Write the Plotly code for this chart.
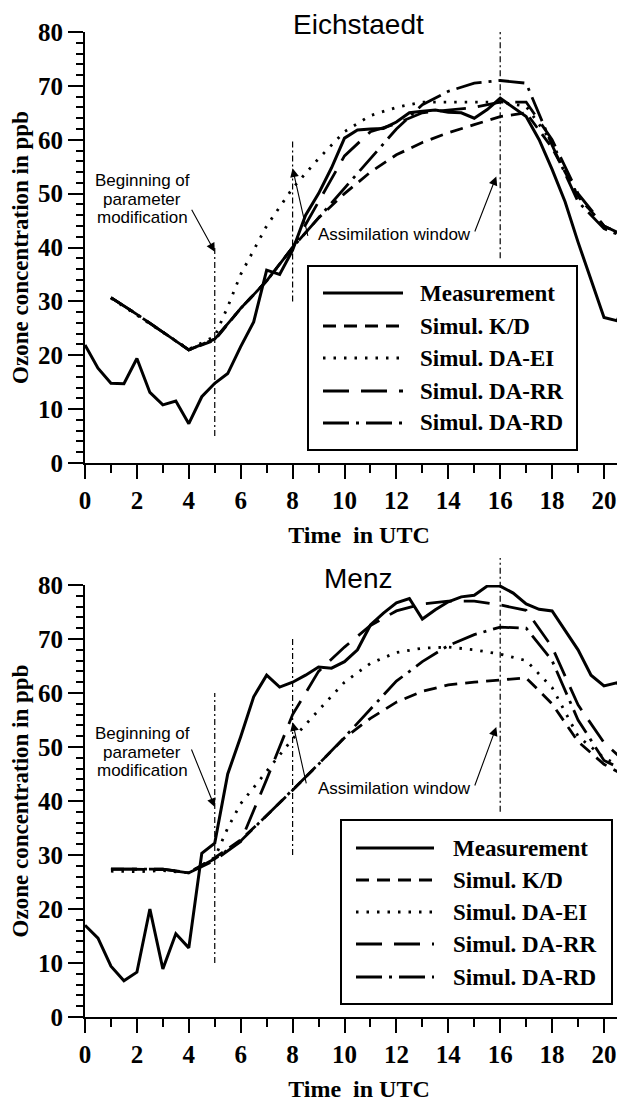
import plotly.graph_objects as go

W, H = 625, 1103
OFF = 8  # page body margin of the html page

# ---------------- data ----------------
series_names = ["Measurement", "Simul. K/D", "Simul. DA-EI", "Simul. DA-RR", "Simul. DA-RD"]
station_names = ["Eichstaedt", "Menz"]

t_meas = [0, 0.5, 1, 1.5, 2, 2.5, 3, 3.5, 4, 4.5, 5, 5.5, 6, 6.5, 7, 7.5, 8, 8.5, 9, 9.5,
          10, 10.5, 11, 11.5, 12, 12.5, 13, 13.5, 14, 14.5, 15, 15.5, 16, 16.5, 17, 17.5,
          18, 18.5, 19, 19.5, 20, 20.5, 21]
t_hour = [1, 2, 3, 4, 5, 6, 7, 8, 9, 10, 11, 12, 13, 14, 15, 16, 17, 18, 19, 20, 21]
t_ei = [1, 2, 3, 4, 5, 5.5, 6, 7, 8, 9, 10, 11, 12, 13, 14, 15, 16, 17, 18, 19, 20, 21]

# Eichstaedt
e_meas = [21.9, 17.6, 14.8, 14.7, 19.4, 13.1, 10.8, 11.5, 7.3, 12.3, 14.8, 16.6, 21.6, 26.2,
          35.8, 35.0, 39.5, 46.0, 50.0, 54.8, 60.3, 61.8, 62.0, 62.1, 63.3, 65.0, 65.3, 65.5,
          65.1, 65.0, 64.0, 65.6, 67.7, 66.0, 64.3, 60.0, 54.5, 48.5, 41.0, 34.0, 27.0, 26.4, 31.5]
e_kd = [30.7, 27.6, 24.3, 21.0, 22.8, 28.7, 33.8, 40.0, 45.5, 50.0, 54.0, 57.2, 59.5, 61.3,
        62.8, 64.3, 65.0, 58.5, 49.5, 44.0, 41.5]
e_ei = [30.6, 27.4, 24.2, 21.1, 23.5, 29.0, 35.0, 44.0, 51.0, 56.5, 61.5, 64.5, 66.0, 67.0,
        67.0, 67.0, 67.0, 66.2, 59.5, 49.5, 44.0, 41.7]
e_rr = [30.7, 27.6, 24.3, 21.0, 23.0, 28.7, 33.8, 40.0, 48.5, 57.0, 61.5, 63.0, 65.0, 65.5,
        66.0, 67.0, 67.0, 60.0, 50.0, 44.0, 41.7]
e_rd = [30.7, 27.6, 24.3, 21.0, 23.0, 28.7, 33.8, 40.0, 45.5, 51.0, 56.5, 62.0, 66.5, 69.0,
        70.5, 71.0, 70.5, 59.0, 48.5, 43.5, 41.5]

# Menz
m_meas = [17.0, 14.6, 9.4, 6.7, 8.3, 20.0, 8.9, 15.4, 12.8, 30.3, 32.2, 45.0, 51.9, 59.3,
          63.3, 61.1, 62.0, 63.3, 64.8, 64.6, 65.8, 68.0, 72.6, 74.8, 76.7, 77.5, 73.7, 75.4,
          76.9, 77.8, 78.1, 79.8, 79.8, 78.5, 76.5, 75.5, 75.2, 71.7, 68.0, 63.3, 61.3, 61.9, 58.5]
m_kd = [27.4, 27.3, 27.3, 26.7, 29.5, 32.8, 37.3, 42.0, 46.8, 51.7, 55.3, 58.3, 60.3, 61.5,
        62.0, 62.4, 62.8, 58.0, 51.0, 46.8, 44.2]
m_ei = [27.0, 26.9, 27.1, 26.7, 29.5, 35.0, 39.5, 45.5, 51.5, 56.8, 62.0, 65.5, 67.5, 68.3,
        68.5, 68.0, 67.2, 66.0, 61.0, 52.0, 48.0, 45.5]
m_rr = [27.4, 27.4, 27.4, 26.7, 29.0, 32.5, 44.0, 56.0, 64.0, 68.5, 72.5, 75.2, 76.5, 77.0,
        77.0, 76.3, 75.3, 68.5, 57.8, 50.8, 46.5]
m_rd = [27.4, 27.4, 27.4, 26.7, 29.3, 32.6, 37.3, 42.0, 46.8, 51.8, 57.0, 62.2, 65.8, 68.8,
        70.8, 72.2, 72.0, 66.0, 55.0, 47.5, 45.2]

# markers: (time, y from, y to)
e_vlines = [(5, 5, 40), (8, 30, 60), (16, 38, 80)]
m_vlines = [(5, 10, 60), (8, 30, 70), (16, 38, 85)]

# ---------------- styles ----------------
styles = [
    dict(width=3, dash="solid"),
    dict(width=2.8, dash="13px,8px"),
    dict(width=2.8, dash="2.5px,8px"),
    dict(width=2.8, dash="26px,12px"),
    dict(width=2.8, dash="26px,7px,3px,7px"),
]

fig = go.Figure()

panels = [
    dict(x="x", y="y", meas=e_meas, sims=[e_kd, e_ei, e_rr, e_rd], vl=e_vlines),
    dict(x="x2", y="y2", meas=m_meas, sims=[m_kd, m_ei, m_rr, m_rd], vl=m_vlines),
]
sim_times = [t_hour, t_ei, t_hour, t_hour]

for p in panels:
    fig.add_trace(go.Scatter(x=t_meas, y=p["meas"], mode="lines", name=series_names[0],
                             line=dict(color="black", **styles[0]), xaxis=p["x"], yaxis=p["y"],
                             showlegend=False))
    for k, s in enumerate(p["sims"]):
        fig.add_trace(go.Scatter(x=sim_times[k], y=s, mode="lines", name=series_names[k + 1],
                                 line=dict(color="black", **styles[k + 1]), xaxis=p["x"],
                                 yaxis=p["y"], showlegend=False))

shapes = []
for p in panels:
    for (tx, y0, y1) in p["vl"]:
        shapes.append(dict(type="line", xref=p["x"], yref=p["y"] + " domain", x0=tx, x1=tx,
                           y0=y0 / 80.0, y1=y1 / 80.0,
                           line=dict(color="black", width=1.2, dash="6px,3px,2px,3px")))

# ---------------- layout ----------------
# screen pixel -> paper coordinates
def px_x(v):
    return (v - OFF) / W

def px_y(v):
    return 1 - (v - OFF) / H

top_dom = [px_y(463), px_y(32)]
bot_dom = [px_y(1017), px_y(585)]
x_left = 85 - OFF
xdom = [x_left / W, 1.0]
px_per_hour = 25.95
x_max = (W - x_left) / px_per_hour

serif = "Liberation Serif"
tickfont = dict(family=serif, size=25, color="black", weight="bold")

def xaxis(anchor):
    return dict(domain=xdom, range=[0, x_max], anchor=anchor, showline=True, linecolor="black",
                linewidth=2, ticks="outside", ticklen=14, tickwidth=2, tickcolor="black",
                dtick=2, tick0=0, showgrid=False, zeroline=False, tickfont=tickfont,
                automargin=False,
                minor=dict(dtick=1, ticks="outside", ticklen=8, tickwidth=1.5, tickcolor="black"),
                title=dict(text="Time  in UTC", font=dict(family=serif, size=24, color="black",
                                                            weight="bold"), standoff=13))

def yaxis(dom, anchor):
    return dict(domain=dom, range=[0, 80], anchor=anchor, showline=True, linecolor="black",
                linewidth=2, ticks="outside", ticklen=15, tickwidth=2, tickcolor="black",
                dtick=10, tick0=0, showgrid=False, zeroline=False, tickfont=tickfont,
                automargin=False,
                minor=dict(dtick=2, ticks="outside", ticklen=7, tickwidth=1.5, tickcolor="black"),
                title=dict(text="Ozone concentration in ppb",
                           font=dict(family=serif, size=23, color="black", weight="bold"),
                           standoff=5))

annotations = []
# station titles
for name, yc in zip(station_names, [25, 578]):
    annotations.append(dict(text=name, xref="paper", yref="paper", x=px_x(358), y=px_y(yc),
                            xanchor="center", yanchor="middle", showarrow=False,
                            font=dict(family="Liberation Sans", size=28, color="black")))

# text labels + arrows per panel (pixel offsets of text lines)
sans = dict(family="Liberation Sans", size=17, color="black")
label_cfg = [
    dict(x="x", y="y", begin_y=[180, 199, 217], assim_y=235,
         arr=[((4.08, 47.3), (5.0, 39.2)), ((8.6, 41.9), (8.0, 54.7)), ((15.0, 42.7), (15.85, 53.2))]),
    dict(x="x2", y="y2", begin_y=[733, 752, 770], assim_y=788,
         arr=[((4.08, 49.8), (5.0, 38.9)), ((8.54, 43.0), (8.0, 54.6)), ((15.0, 42.6), (15.85, 53.7))]),
]
for c in label_cfg:
    for txt, yy in zip(["Beginning of", "parameter", "modification"], c["begin_y"]):
        annotations.append(dict(text=txt, xref="paper", yref="paper", x=px_x(142), y=px_y(yy),
                                xanchor="center", yanchor="middle", showarrow=False, font=sans))
    annotations.append(dict(text="Assimilation window", xref="paper", yref="paper",
                            x=px_x(394), y=px_y(c["assim_y"]), xanchor="center",
                            yanchor="middle", showarrow=False, font=sans))
    for (tail, tip) in c["arr"]:
        annotations.append(dict(text="", x=tip[0], y=tip[1], xref=c["x"], yref=c["y"],
                                ax=tail[0], ay=tail[1], axref=c["x"], ayref=c["y"],
                                showarrow=True, arrowhead=2, arrowsize=1.6, arrowwidth=1.1,
                                arrowcolor="black"))

# manual legends (box in screen pixels)
leg_cfg = [
    dict(box=(308, 266, 577, 450), line_x=(323, 403), text_x=418, rows=[293, 326, 358, 391, 423]),
    dict(box=(341, 820, 612, 1004), line_x=(356, 434), text_x=451, rows=[848, 880, 912, 944, 977]),
]
for lg in leg_cfg:
    x0, y0, x1, y1 = lg["box"]
    shapes.append(dict(type="rect", xref="paper", yref="paper", x0=px_x(x0), x1=px_x(x1),
                       y0=px_y(y1), y1=px_y(y0), line=dict(color="black", width=2),
                       fillcolor="white", layer="above"))
    for k, ry in enumerate(lg["rows"]):
        shapes.append(dict(type="line", xref="paper", yref="paper", x0=px_x(lg["line_x"][0]),
                           x1=px_x(lg["line_x"][1]), y0=px_y(ry), y1=px_y(ry),
                           line=dict(color="black", width=styles[k]["width"],
                                     dash=styles[k]["dash"]), layer="above"))
        annotations.append(dict(text=series_names[k], xref="paper", yref="paper",
                                x=px_x(lg["text_x"]), y=px_y(ry), xanchor="left",
                                yanchor="middle", showarrow=False,
                                font=dict(family=serif, size=23, color="black", weight="bold")))

fig.update_layout(
    width=W, height=H, margin=dict(l=0, r=0, t=0, b=0),
    paper_bgcolor="white", plot_bgcolor="white", showlegend=False,
    xaxis=xaxis("y"), yaxis=yaxis(top_dom, "x"),
    xaxis2=xaxis("y2"), yaxis2=yaxis(bot_dom, "x2"),
    shapes=shapes, annotations=annotations,
)

fig.write_html("out.html")
